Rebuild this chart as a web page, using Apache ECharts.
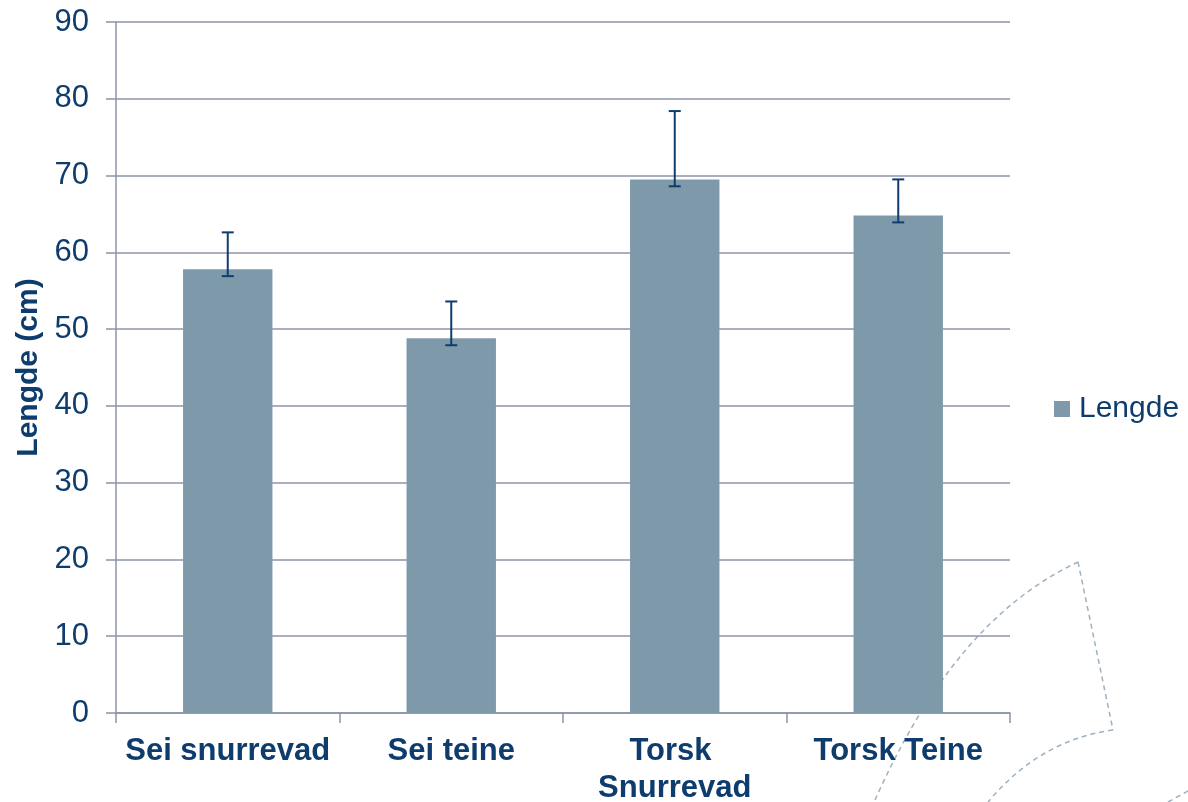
<!DOCTYPE html>
<html>
<head>
<meta charset="utf-8">
<script src="https://cdn.jsdelivr.net/npm/echarts@6/dist/echarts.min.js"></script>
<style>
html,body{margin:0;padding:0;background:#fff;}
#chart{width:1188px;height:802px;}
</style>
</head>
<body>
<div id="chart"></div>
<script>
// ---- data ----
const categories = ['Sei snurrevad', 'Sei teine', 'Torsk Snurrevad', 'Torsk Teine'];
const lengde = [57.8, 48.8, 69.5, 64.8];
const errLow = [56.9, 47.9, 68.6, 63.9];
const errHigh = [62.6, 53.6, 78.4, 69.5];
const yTicks = [0, 10, 20, 30, 40, 50, 60, 70, 80, 90];

const textColor = '#0E3D6D';
const gridColor = '#8C94A8';
const barColor = '#7E9AAA';
const errColor = '#0E3D6D';
const decoColor = '#9FB0BE';

const errData = categories.map((c, i) => [i, errLow[i], errHigh[i]]);

const chart = echarts.init(document.getElementById('chart'));
const option = {
  animation: false,
  backgroundColor: '#fff',
  textStyle: { fontFamily: 'Liberation Sans, Arial, sans-serif' },
  grid: { left: 116, right: 178, top: 22, bottom: 89, containLabel: false, outerBoundsMode: 'none' },
  legend: {
    data: ['Lengde'],
    left: 1049, top: 389,
    orient: 'vertical',
    icon: 'rect', itemWidth: 16, itemHeight: 16, itemGap: 5,
    textStyle: { color: textColor, fontSize: 30, fontFamily: 'Liberation Sans, Arial, sans-serif', padding: [0,0,0,4] }
  },
  xAxis: {
    type: 'category',
    data: categories,
    boundaryGap: true,
    axisLine: { lineStyle: { color: gridColor, width: 1.5 } },
    axisTick: { show: true, length: 10, lineStyle: { color: gridColor, width: 1.5 } },
    axisLabel: {
      color: textColor, fontSize: 31, fontWeight: 'bold',
      fontFamily: 'Liberation Sans, Arial, sans-serif',
      margin: 20, width: 215, overflow: 'break', lineHeight: 37, interval: 0
    },
    splitLine: { show: false }
  },
  yAxis: {
    type: 'value',
    min: 0, max: 90, interval: 10,
    name: 'Lengde (cm)',
    nameLocation: 'middle',
    nameGap: 71,
    nameTextStyle: { color: textColor, fontSize: 30, fontWeight: 'bold', fontFamily: 'Liberation Sans, Arial, sans-serif' },
    axisLine: { show: true, lineStyle: { color: gridColor, width: 1.5 } },
    axisTick: { show: true, length: 10, lineStyle: { color: gridColor, width: 1.5 } },
    axisLabel: {
      color: textColor, fontSize: 31, margin: 27,
      fontFamily: 'Liberation Sans, Arial, sans-serif',
      formatter: v => yTicks.includes(v) ? String(v) : ''
    },
    splitLine: { show: true, lineStyle: { color: gridColor, width: 1.5 } }
  },
  graphic: [
    { type: 'bezierCurve', z: -10, silent: true,
      shape: { x1: 875, y1: 800, cpx1: 919, cpy1: 702, cpx2: 980, cpy2: 608, x2: 1078, y2: 562 },
      style: { stroke: decoColor, lineWidth: 1.5, lineDash: [5, 4], fill: null } },
    { type: 'line', z: -10, silent: true,
      shape: { x1: 1078, y1: 562, x2: 1113, y2: 730 },
      style: { stroke: decoColor, lineWidth: 1.5, lineDash: [5, 4] } },
    { type: 'bezierCurve', z: -10, silent: true,
      shape: { x1: 1113, y1: 730, cpx1: 1040, cpy1: 740, x2: 988, y2: 802 },
      style: { stroke: decoColor, lineWidth: 1.5, lineDash: [5, 4], fill: null } },
    { type: 'line', z: -10, silent: true,
      shape: { x1: 1168, y1: 802, x2: 1188, y2: 791 },
      style: { stroke: decoColor, lineWidth: 1.5, lineDash: [5, 4] } }
  ],
  series: [
    {
      name: 'Lengde',
      type: 'bar',
      data: lengde,
      barWidth: '40%',
      itemStyle: { color: barColor },
      z: 2
    },
    {
      name: 'err',
      type: 'custom',
      z: 3,
      data: errData,
      renderItem: function (params, api) {
        const x = api.value(0);
        const lo = api.coord([x, api.value(1)]);
        const hi = api.coord([x, api.value(2)]);
        const hw = 6;
        const style = { stroke: errColor, lineWidth: 2, fill: null };
        return {
          type: 'group',
          children: [
            { type: 'line', shape: { x1: lo[0], y1: lo[1], x2: hi[0], y2: hi[1] }, style: style },
            { type: 'line', shape: { x1: lo[0] - hw, y1: lo[1], x2: lo[0] + hw, y2: lo[1] }, style: style },
            { type: 'line', shape: { x1: hi[0] - hw, y1: hi[1], x2: hi[0] + hw, y2: hi[1] }, style: style }
          ]
        };
      }
    }
  ]
};
chart.setOption(option);
</script>
</body>
</html>
